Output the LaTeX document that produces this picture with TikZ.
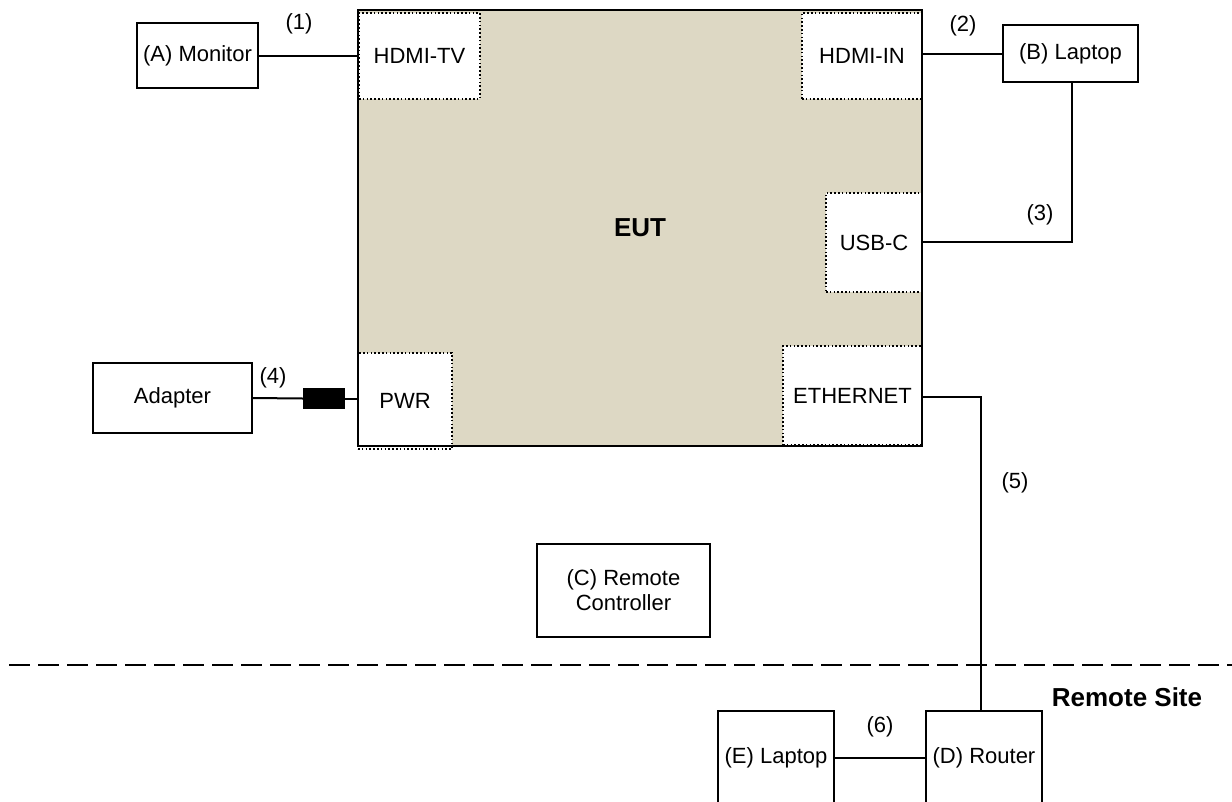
\documentclass[tikz,border=0pt]{standalone}
\usepackage{fontspec}
\setmainfont{Liberation Sans}
\begin{document}
\begin{tikzpicture}[x=1pt,y=-1pt,
  box/.style={draw=black, line width=2.2pt, fill=white, inner sep=0pt, font=\fontsize{22}{25}\selectfont, align=center},
  port/.style={draw=black, line width=1.6pt, dash pattern=on 1.6pt off 2.2pt, fill=white, inner sep=0pt, font=\fontsize{22}{25}\selectfont},
  wire/.style={draw=black, line width=2pt},
  lbl/.style={font=\fontsize{22}{25}\selectfont, inner sep=0pt},
  bigl/.style={font=\bfseries\fontsize{26}{30}\selectfont, inner sep=0pt}]
\useasboundingbox (0,0) rectangle (1232,801);
\clip (0,0) rectangle (1232,801);
\definecolor{eutfill}{RGB}{221,216,196}

% EUT
\node[fill=eutfill, minimum width=564pt, minimum height=436pt, inner sep=0pt] (eut) at (640,228) {};
\node[bigl] (eutlbl) at (640,228) {EUT};

% ports
\node[port, minimum width=121pt, minimum height=86pt] (tv) at (419.5,56) {HDMI-TV};
\node[port, minimum width=120pt, minimum height=86pt] (hin) at (862,56) {HDMI-IN};
\node[port, minimum width=96pt, minimum height=99pt] (usb) at (874,242.5) {USB-C};
\node[port, minimum width=94pt, minimum height=96pt] (pwr) at (405,401) {PWR};
\node[port, minimum width=139pt, minimum height=99pt] (eth) at (852.5,395.5) {ETHERNET};
\draw[line width=2.4pt] (eut.north west) rectangle (eut.south east);

% devices
\node[box, minimum width=121pt, minimum height=65pt] (mon) at (197.5,55.5) {(A) Monitor};
\node[box, minimum width=135pt, minimum height=57pt] (lapb) at (1070.5,53.5) {(B) Laptop};
\node[box, minimum width=159pt, minimum height=70pt] (adp) at (172.5,398) {Adapter};
\node[fill=black, minimum width=42pt, minimum height=21pt, inner sep=0pt] (plug) at (324,398.5) {};
\node[box, minimum width=173pt, minimum height=93pt] (rc) at (623.5,590.5) {(C) Remote\\Controller};
\node[box, minimum width=116pt, minimum height=94pt] (rtr) at (984,758) {(D) Router};
\node[box, minimum width=116pt, minimum height=94pt] (lape) at (776,758) {(E) Laptop};

% connectors
\draw[wire] (mon.east) -- (mon.east -| tv.west);
\draw[wire] (hin.east |- lapb.west) -- (lapb.west);
\coordinate (c3) at (1072,242);
\draw[wire] (lapb.south -| c3) -- (c3) -- (usb.east |- c3);
\draw[wire] (adp.east) -- (plug.west);
\draw[wire] (plug.east) -- (pwr.west |- plug.east);
\coordinate (c5) at (981,397);
\draw[wire] (eth.east |- c5) -- (c5) -- (rtr.north -| c5);
\draw[wire] (lape.east) -- (rtr.west);

% labels
\node[lbl] (l1) at (299,24) {(1)};
\node[lbl] (l2) at (963,26) {(2)};
\node[lbl] (l3) at (1040,215) {(3)};
\node[lbl] (l4) at (273,378) {(4)};
\node[lbl] (l5) at (1015,483) {(5)};
\node[lbl] (l6) at (880,727) {(6)};

% remote site separator
\coordinate (dl) at (9,665);
\coordinate (dr) at (1240,665);
\draw[line width=2.2pt, dash pattern=on 21pt off 8pt] (dl) -- (dr);
\node[bigl] (rs) at (1127,697) {Remote Site};
\end{tikzpicture}
\end{document}
